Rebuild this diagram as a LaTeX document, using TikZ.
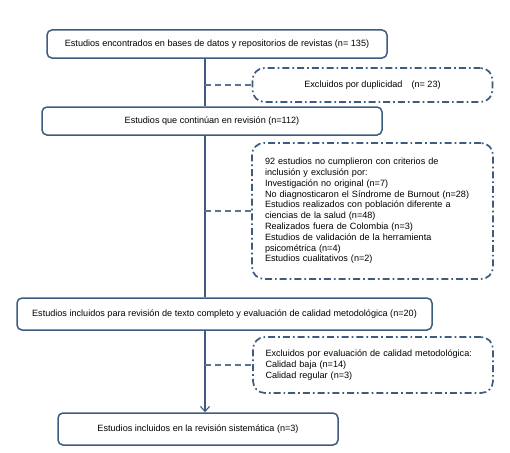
\documentclass[tikz,border=0pt]{standalone}
\usepackage{fontspec}
\setmainfont{Liberation Sans}
\usetikzlibrary{arrows.meta}
\begin{document}
\begin{tikzpicture}[x=1pt,y=-1pt,
  font=\fontsize{9.1}{10.8}\selectfont,
  solidbox/.style={draw=boxblue, line width=1.5pt, rounded corners=5pt, fill=white, inner sep=0pt},
  dotbox/.style={draw=boxblue, line width=1.7pt, rounded corners=12pt,
     dash pattern=on 7pt off 3pt on 1.7pt off 3pt, inner sep=0pt},
  flow/.style={draw=boxblue, line width=1.1pt},
  side/.style={draw=boxblue!85, line width=1.5pt, dash pattern=on 6pt off 4pt}]
\definecolor{boxblue}{HTML}{3E5C80}
\useasboundingbox (0,0) rectangle (510,452);
% solid boxes
\node[solidbox, minimum width=340pt, minimum height=28pt] (b1) at (217,44) {Estudios encontrados en bases de datos y repositorios de revistas (n= 135)};
\node[solidbox, minimum width=340pt, minimum height=28pt] (b2) at (212,121) {Estudios que continúan en revisión (n=112)};
\node[solidbox, minimum width=415pt, minimum height=32pt] (b3) at (224.5,314) {Estudios incluidos para revisión de texto completo y evaluación de calidad metodológica (n=20)};
\node[solidbox, minimum width=280pt, minimum height=32pt] (b4) at (198,429) {Estudios incluidos en la revisión sistemática (n=3)};
% dotted boxes
\node[dotbox, minimum width=240pt, minimum height=34pt] (e1) at (372.5,85) {Excluidos por duplicidad\quad (n= 23)};
\node[dotbox, minimum width=241pt, minimum height=136pt, text width=215pt, align=left] (e2) at (372.5,211) {92 estudios no cumplieron con criterios de\\inclusión y exclusión por:\\Investigación no original (n=7)\\No diagnosticaron el Síndrome de  Burnout (n=28)\\Estudios realizados con población  diferente a\\ciencias de la salud (n=48)\\Realizados fuera de Colombia (n=3)\\Estudios de validación de la herramienta\\psicométrica (n=4)\\Estudios cualitativos (n=2)};
\node[dotbox, minimum width=240pt, minimum height=56pt, text width=215pt, align=left] (e3) at (373,365) {Excluidos por evaluación de calidad metodológica:\\Calidad baja (n=14)\\Calidad regular (n=3)};
% spine
\coordinate (sp) at (205,0);
\draw[flow] (b1.south -| sp) -- (b2.north -| sp);
\draw[flow] (b2.south -| sp) -- (b3.north -| sp);
\draw[flow,-{Straight Barb[length=5pt,width=9pt]}] (b3.south -| sp) -- (b4.north -| sp);
% side connectors
\coordinate (s1) at (205,85);
\coordinate (s2) at (205,211);
\coordinate (s3) at (205,365);
\draw[side] (s1) -- (e1.west);
\draw[side] (s2) -- (e2.west);
\draw[side] (s3) -- (e3.west);
\end{tikzpicture}
\end{document}
